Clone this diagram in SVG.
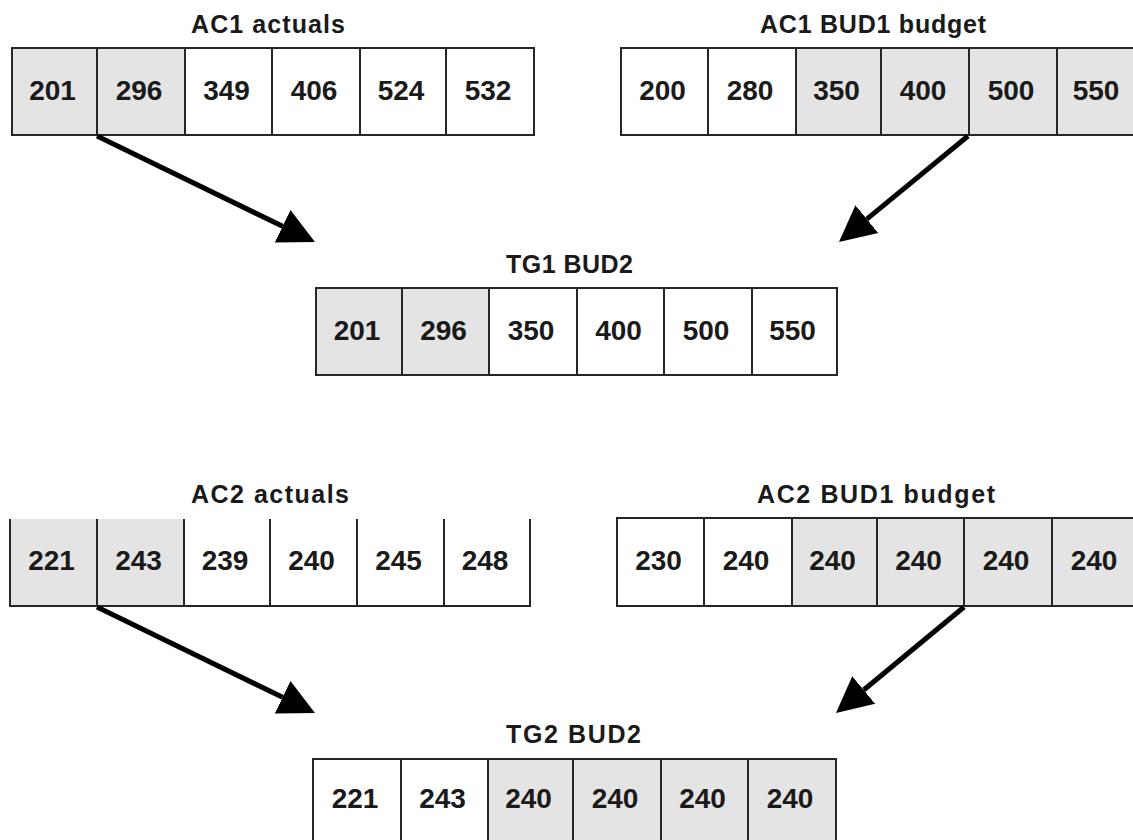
<svg xmlns="http://www.w3.org/2000/svg" width="1133" height="840" viewBox="0 0 1133 840">
<defs>
<style>
.bg{fill:#ffffff}
.g{fill:#e4e4e4}
.w{fill:#ffffff}
.b{fill:none;stroke:#262626;stroke-width:2}
.t{font-family:"Liberation Sans",Arial,sans-serif;font-weight:bold;font-size:25px;fill:#1a1a1a}
.n{font-family:"Liberation Sans",Arial,sans-serif;font-weight:bold;font-size:28px;fill:#1a1a1a;text-anchor:middle}
.c{fill:none;stroke:#000;stroke-width:5}
</style>
<marker id="ah" markerUnits="userSpaceOnUse" markerWidth="38" markerHeight="38" viewBox="0 -19 38 38" refX="0" refY="0" orient="auto">
<path d="M0,-18 L36,0 L0,18 Z" fill="#000"/>
</marker>
</defs>
<rect class="bg" x="0" y="0" width="1133" height="840"/>

<g id="ac1-actuals">
<text class="t" x="191" y="32.5" textLength="154" lengthAdjust="spacing">AC1 actuals</text>
<rect class="g" x="12" y="48" width="85" height="87"/>
<rect class="g" x="97" y="48" width="88" height="87"/>
<path class="b" d="M12,48 H534 V135 H12 Z M97,48 V135 M185,48 V135 M272,48 V135 M360,48 V135 M446,48 V135"/>
<text class="n" x="52.5" y="100">201</text>
<text class="n" x="139" y="100">296</text>
<text class="n" x="226.5" y="100">349</text>
<text class="n" x="314" y="100">406</text>
<text class="n" x="401" y="100">524</text>
<text class="n" x="488" y="100">532</text>
</g>

<g id="ac1-bud1-budget">
<text class="t" x="760" y="33" textLength="226" lengthAdjust="spacing">AC1 BUD1 budget</text>
<rect class="g" x="796" y="48" width="360" height="87"/>
<path class="b" d="M1145,48 H621 V135 H1145 M708,48 V135 M796,48 V135 M881,48 V135 M969,48 V135 M1057,48 V135"/>
<text class="n" x="662.5" y="100">200</text>
<text class="n" x="750" y="100">280</text>
<text class="n" x="836.5" y="100">350</text>
<text class="n" x="923" y="100">400</text>
<text class="n" x="1011" y="100">500</text>
<text class="n" x="1096" y="100">550</text>
</g>

<g id="tg1-bud2">
<text class="t" x="506" y="273" textLength="127" lengthAdjust="spacing">TG1 BUD2</text>
<rect class="g" x="316" y="288" width="173" height="87"/>
<path class="b" d="M316,288 H837 V375 H316 Z M402,288 V375 M489,288 V375 M577,288 V375 M664,288 V375 M752,288 V375"/>
<text class="n" x="357" y="340">201</text>
<text class="n" x="443.5" y="340">296</text>
<text class="n" x="531" y="340">350</text>
<text class="n" x="618.5" y="340">400</text>
<text class="n" x="706" y="340">500</text>
<text class="n" x="792.5" y="340">550</text>
</g>

<g id="ac2-actuals">
<text class="t" x="191" y="503" textLength="158" lengthAdjust="spacing">AC2 actuals</text>
<rect class="g" x="10" y="519" width="174" height="87"/>
<path class="b" d="M10,519 V606 H530 V519 M97,519 V606 M184,519 V606 M270,519 V606 M357,519 V606 M444,519 V606"/>
<text class="n" x="51.5" y="570">221</text>
<text class="n" x="138.5" y="570">243</text>
<text class="n" x="225" y="570">239</text>
<text class="n" x="311.5" y="570">240</text>
<text class="n" x="398.5" y="570">245</text>
<text class="n" x="485" y="570">248</text>
</g>

<g id="ac2-bud1-budget">
<text class="t" x="757" y="503" textLength="238" lengthAdjust="spacing">AC2 BUD1 budget</text>
<rect class="g" x="792" y="518" width="360" height="88"/>
<path class="b" d="M1145,518 H617 V606 H1145 M704,518 V606 M792,518 V606 M877,518 V606 M964,518 V606 M1052,518 V606"/>
<text class="n" x="658.5" y="570">230</text>
<text class="n" x="746" y="570">240</text>
<text class="n" x="832.5" y="570">240</text>
<text class="n" x="918.5" y="570">240</text>
<text class="n" x="1006" y="570">240</text>
<text class="n" x="1094" y="570">240</text>
</g>

<g id="tg2-bud2">
<text class="t" x="506" y="743" textLength="135" lengthAdjust="spacing">TG2 BUD2</text>
<rect class="g" x="488" y="759" width="348" height="87"/>
<path class="b" d="M313,759 H836 V846 H313 Z M401,759 V846 M488,759 V846 M573,759 V846 M661,759 V846 M748,759 V846"/>
<text class="n" x="355" y="808">221</text>
<text class="n" x="442.5" y="808">243</text>
<text class="n" x="528.5" y="808">240</text>
<text class="n" x="615" y="808">240</text>
<text class="n" x="702.5" y="808">240</text>
<text class="n" x="790" y="808">240</text>
</g>

<g id="connectors">
<line class="c" x1="97" y1="136" x2="282.6" y2="226.3" marker-end="url(#ah)"/>
<line class="c" x1="968" y1="136" x2="866.8" y2="219.1" marker-end="url(#ah)"/>
<line class="c" x1="97" y1="607" x2="282.6" y2="697.3" marker-end="url(#ah)"/>
<line class="c" x1="964" y1="607" x2="863.7" y2="690" marker-end="url(#ah)"/>
</g>
</svg>
